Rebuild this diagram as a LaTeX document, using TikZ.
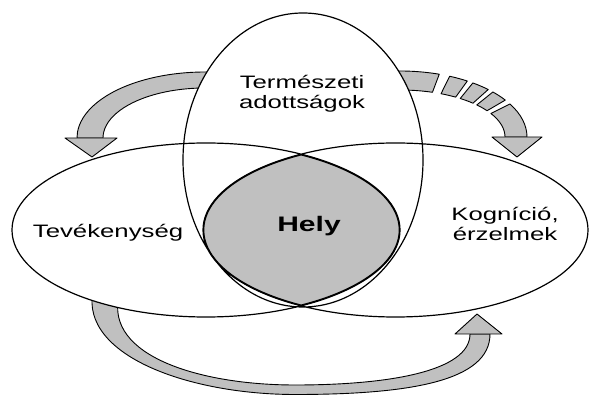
\documentclass[tikz,border=0pt]{standalone}
\usepackage{fontspec}
\setmainfont{Liberation Sans}
\definecolor{helygray}{RGB}{192,192,192}

\begin{document}
\begin{tikzpicture}[x = 1pt, y = 1pt,
    band/.style = {fill = helygray, draw = black, line width = 0.9pt, line join = round},
    oval/.style = {line width = 1.2pt},
    caption/.style = {align = center, xscale = 1.43, inner sep = 0pt, font = \fontsize{18}{20}\selectfont}]
  \useasboundingbox (0,0) rectangle (591,396);
  \coordinate (leftturn) at (205,258);
  \coordinate (rightturn) at (400,259);
  \draw[band] ([shift={(80:128pt and 66pt)}]leftturn) arc[start angle = 80, end angle = 180, x radius = 128pt, y radius = 66pt]
              -- ([shift={(180:102pt and 50pt)}]leftturn) arc[start angle = 180, end angle = 80, x radius = 102pt, y radius = 50pt] -- cycle;
  \foreach \from/\to in {100/72, 67/58, 55/46, 43/34, 30/0}
    \draw[band] ([shift={(\from:127pt and 66pt)}]rightturn) arc[start angle = \from, end angle = \to, x radius = 127pt, y radius = 66pt]
                -- ([shift={(\to:105pt and 47pt)}]rightturn) arc[start angle = \to, end angle = \from, x radius = 105pt, y radius = 47pt] -- cycle;
  \draw[band] (93,105) .. controls (80,40) and (190,1.5) .. (295,1.5) .. controls (410,1.5) and (490,15) .. (490,62)
              -- (470,62) .. controls (470,25) and (390,11) .. (295,11) .. controls (200,11) and (105,40) .. (119,100) -- cycle;
  \draw[band] (65,258) -- (92,239) -- (117,258) -- cycle;
  \draw[band] (492,259) -- (517,239) -- (542,259) -- cycle;
  \draw[band] (455,62) -- (477,82) -- (502,62) -- cycle;
  \fill[white] (206,166) ellipse[x radius = 194pt, y radius = 87pt]
               (395.5,166) ellipse[x radius = 192.5pt, y radius = 87pt]
               (303,236) ellipse[x radius = 120pt, y radius = 147pt];
  \begin{scope}
    \clip (206,166) ellipse[x radius = 194pt, y radius = 87pt];
    \clip (395.5,166) ellipse[x radius = 192.5pt, y radius = 87pt];
    \clip (303,236) ellipse[x radius = 120pt, y radius = 147pt];
    \fill[helygray] (0,0) rectangle (591,396);
    \draw[line width = 2.6pt] (206,166) ellipse[x radius = 194pt, y radius = 87pt]
                              (395.5,166) ellipse[x radius = 192.5pt, y radius = 87pt];
  \end{scope}
  \draw[oval] (206,166) ellipse[x radius = 194pt, y radius = 87pt]
              (395.5,166) ellipse[x radius = 192.5pt, y radius = 87pt]
              (303,236) ellipse[x radius = 120pt, y radius = 147pt];
  \node[caption] (nature) at (302,302) {Természeti\\adottságok};
  \node[caption, anchor = base] (activity) at (108,158) {Tevékenység};
  \node[caption, anchor = base, font = \fontsize{21}{24}\selectfont\bfseries] (place) at (309,164) {Hely};
  \node[caption] (cognition) at (505,172) {Kogníció,\\érzelmek};
\end{tikzpicture}
\end{document}
